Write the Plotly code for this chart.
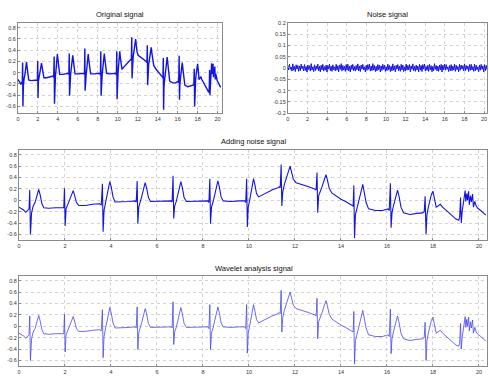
import numpy as np
import plotly.graph_objects as go

# ---- ECG key points (time in s, amplitude) ----
ecg_t = [0.00, 0.10, 0.20, 0.30, 0.38, 0.44,
         0.47, 0.50, 0.55, 0.62, 0.70, 0.78, 0.86, 0.92, 1.00, 1.08, 1.30, 1.60, 1.90, 1.95,
         1.98, 2.01, 2.05, 2.12, 2.20, 2.28, 2.36, 2.42, 2.50, 2.60, 2.90, 3.20, 3.50, 3.58,
         3.63, 3.66, 3.70, 3.76, 3.82, 3.89, 3.95, 4.01, 4.09, 4.18, 4.50, 4.80, 5.05, 5.10,
         5.14, 5.17, 5.21, 5.28, 5.34, 5.42, 5.49, 5.55, 5.63, 5.72, 6.00, 6.40, 6.62, 6.66,
         6.70, 6.73, 6.77, 6.84, 6.90, 6.97, 7.04, 7.10, 7.18, 7.28, 7.60, 8.00, 8.22, 8.26,
         8.30, 8.33, 8.37, 8.44, 8.50, 8.58, 8.65, 8.71, 8.79, 8.88, 9.20, 9.60, 9.82, 9.86,
         9.90, 9.93, 9.97, 10.03, 10.08, 10.14, 10.20, 10.26, 10.33, 10.42, 10.60, 10.80, 11.00, 11.20, 11.32, 11.36,
         11.40, 11.43, 11.47, 11.54, 11.62, 11.72, 11.79, 11.85, 11.93, 12.05, 12.30, 12.60, 12.85, 12.92,
         12.96, 12.99, 13.03, 13.10, 13.18, 13.28, 13.35, 13.41, 13.49, 13.60, 13.80, 14.00, 14.20, 14.40, 14.50, 14.53,
         14.56, 14.59, 14.63, 14.70, 14.78, 14.88, 14.95, 15.01, 15.09, 15.20, 15.50, 15.80, 16.05, 16.10,
         16.15, 16.18, 16.22, 16.28, 16.35, 16.41, 16.46, 16.53, 16.61, 16.72, 17.00, 17.30, 17.55, 17.62,
         17.66, 17.70, 17.74, 17.80, 17.86, 17.93, 18.00, 18.06, 18.14, 18.22, 18.32, 18.42, 18.60, 18.80, 19.00, 19.12, 19.16,
         19.20, 19.23, 19.27, 19.31, 19.35, 19.40, 19.43, 19.47, 19.50, 19.55, 19.58, 19.63, 19.67, 19.72, 19.76, 19.82, 19.88, 19.95, 20.05, 20.15, 20.30]
ecg_v = [-0.12, -0.14, -0.17, -0.21, -0.18, -0.15,
         0.18, -0.60, -0.22, -0.10, -0.04, 0.08, 0.19, 0.10, -0.06, -0.13, -0.14, -0.13, -0.12, -0.13,
         0.21, -0.45, -0.15, -0.08, -0.02, 0.08, 0.17, 0.09, -0.04, -0.09, -0.09, -0.07, -0.06, -0.08,
         0.29, -0.55, -0.18, -0.05, 0.06, 0.20, 0.33, 0.24, 0.06, -0.03, -0.03, -0.02, -0.01, -0.03,
         0.34, -0.41, -0.12, -0.03, 0.07, 0.20, 0.31, 0.22, 0.05, -0.02, -0.02, -0.01, -0.01, -0.03,
         0.43, -0.32, -0.10, -0.02, 0.08, 0.21, 0.33, 0.23, 0.05, -0.02, -0.02, -0.02, -0.01, -0.04,
         0.38, -0.41, -0.12, -0.03, 0.08, 0.22, 0.34, 0.24, 0.06, -0.01, -0.02, -0.01, -0.01, -0.04,
         0.38, -0.47, -0.12, 0.00, 0.12, 0.26, 0.38, 0.27, 0.12, 0.06, 0.10, 0.14, 0.18, 0.21, 0.24, 0.22,
         0.63, -0.10, 0.15, 0.28, 0.38, 0.50, 0.60, 0.50, 0.37, 0.31, 0.28, 0.24, 0.20, 0.18,
         0.49, -0.22, 0.08, 0.15, 0.24, 0.37, 0.45, 0.36, 0.21, 0.13, 0.07, 0.02, -0.02, -0.06, -0.08, -0.10,
         0.26, -0.66, -0.25, -0.12, 0.00, 0.16, 0.28, 0.17, -0.03, -0.15, -0.18, -0.18, -0.15, -0.18,
         0.30, -0.48, -0.22, -0.10, 0.02, 0.12, 0.18, 0.06, -0.12, -0.22, -0.25, -0.23, -0.22, -0.20,
         0.07, -0.60, -0.25, -0.12, -0.01, 0.10, 0.16, 0.05, -0.12, -0.10, -0.07, -0.12, -0.18, -0.26, -0.33, -0.35, -0.30,
         0.05, -0.40, -0.20, -0.08, 0.04, 0.17, -0.02, 0.12, 0.00, 0.16, -0.08, 0.08, -0.03, 0.11, -0.12, -0.02, -0.10, -0.14, -0.17, -0.21, -0.26]

# ---- noise samples (hand typed, small amplitude band) ----
noise_v = [
    0.012, -0.009, 0.016, -0.006, 0.004, -0.014, 0.018, -0.010, 0.007, -0.016,
    0.014, -0.005, 0.011, -0.015, 0.009, -0.012, 0.017, -0.004, 0.008, -0.013,
    0.015, -0.011, 0.006, -0.018, 0.013, -0.007, 0.010, -0.014, 0.019, -0.009,
    0.005, -0.016, 0.014, -0.012, 0.009, -0.006, 0.017, -0.013, 0.008, -0.017,
    0.012, -0.009, 0.016, -0.014, 0.006, -0.010, 0.013, -0.018, 0.011, -0.005,
    0.017, -0.012, 0.008, -0.015, 0.014, -0.008, 0.005, -0.013, 0.016, -0.010,
    0.010, -0.017, 0.013, -0.006, 0.019, -0.014, 0.011, -0.009, 0.007, -0.015,
    0.015, -0.010, 0.017, -0.013, 0.008, -0.018, 0.012, -0.007, 0.016, -0.012,
    0.006, -0.014, 0.011, -0.008, 0.018, -0.013, 0.009, -0.016, 0.013, -0.005,
    0.016, -0.009, 0.005, -0.017, 0.012, -0.011, 0.015, -0.006, 0.017, -0.014,
    0.008, -0.012, 0.019, -0.009, 0.011, -0.016, 0.007, -0.013, 0.015, -0.008,
    0.013, -0.018, 0.009, -0.011, 0.016, -0.006, 0.012, -0.015, 0.005, -0.012,
    0.017, -0.008, 0.011, -0.016, 0.007, -0.013, 0.018, -0.010, 0.009, -0.017,
    0.012, -0.005, 0.015, -0.012, 0.008, -0.015, 0.016, -0.009, 0.013, -0.016,
    0.005, -0.013, 0.017, -0.010, 0.011, -0.008, 0.015, -0.017, 0.009, -0.006,
    0.018, -0.012, 0.007, -0.015, 0.013, -0.009, 0.008, -0.018, 0.016, -0.010,
    0.011, -0.016, 0.015, -0.005, 0.017, -0.013, 0.006, -0.011, 0.012, -0.015,
    0.016, -0.008, 0.010, -0.017, 0.007, -0.012, 0.019, -0.006, 0.011, -0.013,
    0.008, -0.015, 0.013, -0.009, 0.016, -0.018, 0.012, -0.008, 0.017, -0.010,
    0.015, -0.006, 0.005, -0.016, 0.011, -0.012, 0.015, -0.013, 0.008, -0.009,
    0.017, -0.015, 0.012, -0.008, 0.006, -0.017, 0.016, -0.010, 0.013, -0.005,
    0.010, -0.013, 0.018, -0.012, 0.011, -0.006, 0.008, -0.016, 0.015, -0.010,
    0.016, -0.009, 0.006, -0.015, 0.017, -0.013, 0.012, -0.008, 0.005, -0.017,
    0.013, -0.010, 0.016, -0.006, 0.009, -0.018, 0.015, -0.012, 0.011, -0.008,
]
noise_t = np.linspace(0, 20.3, len(noise_v))

x_ticks = [0, 2, 4, 6, 8, 10, 12, 14, 16, 18, 20]
sig_ticks = [-0.6, -0.4, -0.2, 0, 0.2, 0.4, 0.6, 0.8]
sig_tick_text = ["-0.6", "-0.4", "-0.2", "0", "0.2", "0.4", "0.6", "0.8"]
noise_ticks = [-0.2, -0.15, -0.1, -0.05, 0, 0.05, 0.1, 0.15, 0.2]
noise_tick_text = ["-0.2", "-0.15", "-0.1", "-0.05", "0", "0.05", "0.1", "0.15", "0.2"]

W, H = 489, 378
def dx(a, b):
    return [a / W, b / W]
def dy(top, bottom):
    return [1 - bottom / H, 1 - top / H]

BLUE = "rgb(20,20,225)"
fig = go.Figure()
fig.add_trace(go.Scatter(x=ecg_t, y=ecg_v, mode="lines", line=dict(color=BLUE, width=1.4),
                         xaxis="x", yaxis="y", showlegend=False))
fig.add_trace(go.Scatter(x=noise_t, y=noise_v, mode="lines", line=dict(color=BLUE, width=1.0),
                         xaxis="x2", yaxis="y2", showlegend=False))
fig.add_trace(go.Scatter(x=ecg_t, y=ecg_v, mode="lines", line=dict(color=BLUE, width=1.1),
                         xaxis="x3", yaxis="y3", showlegend=False))
fig.add_trace(go.Scatter(x=ecg_t, y=ecg_v, mode="lines", line=dict(color="rgb(70,70,235)", width=0.8),
                         xaxis="x4", yaxis="y4", showlegend=False))

tickfont = dict(family="Liberation Sans, Arial", size=5.5, color="#333")
common = dict(showline=True, linecolor="#8a8a8a", linewidth=1, mirror=True,
              showgrid=True, gridcolor="#c8c8c8", griddash="dot", gridwidth=0.8,
              ticks="inside", ticklen=2, tickcolor="#8a8a8a", tickfont=tickfont,
              zeroline=False, fixedrange=True)

layout = dict(
    width=W, height=H, margin=dict(l=0, r=0, t=0, b=0),
    paper_bgcolor="white", plot_bgcolor="white",
    xaxis=dict(domain=dx(16, 221), range=[0, 20.45], tickvals=x_ticks, anchor="y", **common),
    yaxis=dict(domain=dy(20, 112), range=[-0.72, 0.89], tickvals=sig_ticks, ticktext=sig_tick_text, anchor="x", **common),
    xaxis2=dict(domain=dx(287, 487), range=[0, 20.3], tickvals=x_ticks, anchor="y2", **common),
    yaxis2=dict(domain=dy(20, 112), range=[-0.2, 0.2], tickvals=noise_ticks, ticktext=noise_tick_text, anchor="x2", **common),
    xaxis3=dict(domain=dx(17, 487), range=[0, 20.35], tickvals=x_ticks, anchor="y3", **common),
    yaxis3=dict(domain=dy(149, 241), range=[-0.7, 0.89], tickvals=sig_ticks, ticktext=sig_tick_text, anchor="x3", **common),
    xaxis4=dict(domain=dx(17, 487), range=[0, 20.35], tickvals=x_ticks, anchor="y4", **common),
    yaxis4=dict(domain=dy(277, 369), range=[-0.7, 0.89], tickvals=sig_ticks, ticktext=sig_tick_text, anchor="x4", **common),
)
fig.update_layout(**layout)

titles = [("Original signal", 118, 12), ("Noise signal", 387, 12),
          ("Adding noise signal", 253, 141), ("Wavelet analysis signal", 253, 270)]
for text, px, py in titles:
    fig.add_annotation(text=text, x=px / W, y=1 - py / H, xref="paper", yref="paper",
                       showarrow=False, xanchor="center", yanchor="middle",
                       font=dict(family="Liberation Sans, Arial", size=7.5, color="#111"))

fig.write_html("out.html", config={"displayModeBar": False, "staticPlot": True},
               post_script="document.body.style.margin='0';document.body.style.overflow='hidden';")
